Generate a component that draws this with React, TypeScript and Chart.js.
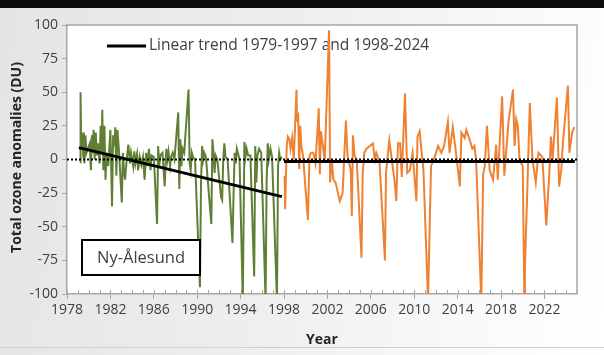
import { useEffect, useRef } from "react";
import { Chart, registerables } from "chart.js";

Chart.register(...registerables);

// ---- Data (decimal years, total ozone anomalies in DU) ----
const greenYears = [
  1979.2, 1979.25, 1979.3, 1979.35, 1979.4, 1979.45, 1979.5, 1979.55, 1979.6, 1979.7, 1979.8,
  1980.1, 1980.2, 1980.3, 1980.35, 1980.45, 1980.55, 1980.65, 1980.75, 1980.85,
  1981.0, 1981.1, 1981.2, 1981.25, 1981.35, 1981.45, 1981.55, 1981.65, 1981.8,
  1982.0, 1982.15, 1982.25, 1982.35, 1982.45, 1982.55, 1982.65, 1982.8,
  1983.05, 1983.15, 1983.25, 1983.35, 1983.5, 1983.65, 1983.8, 1983.9,
  1984.1, 1984.2, 1984.3, 1984.45, 1984.55, 1984.7, 1984.85,
  1985.0, 1985.15, 1985.3, 1985.4, 1985.55, 1985.7, 1985.8,
  1986.0, 1986.3, 1986.4, 1986.5, 1986.6, 1986.8,
  1987.0, 1987.15, 1987.25, 1987.35, 1987.5, 1987.6, 1987.75, 1987.9,
  1988.25, 1988.35, 1988.45, 1988.55, 1988.65, 1988.8,
  1989.2, 1989.3, 1989.4, 1989.5, 1989.6, 1989.8,
  1990.25, 1990.35, 1990.45, 1990.55, 1990.65, 1990.8,
  1991.3, 1991.4, 1991.5, 1991.6, 1991.7, 1991.85,
  1992.2, 1992.3, 1992.4, 1992.5, 1992.6, 1992.8,
  1993.25, 1993.35, 1993.45, 1993.55, 1993.65, 1993.9,
  1994.2, 1994.35, 1994.45, 1994.55, 1994.7, 1994.9,
  1995.25, 1995.35, 1995.45, 1995.55, 1995.7, 1995.9,
  1996.3, 1996.4, 1996.5, 1996.6, 1996.75, 1996.9,
  1997.35, 1997.45, 1997.55, 1997.65, 1997.8,
];
const greenValues = [
  -2, 50, 15, 20, 8, 18, 2, 20, -3, 18, 5,
  12, -8, 18, 5, 22, 0, 20, 3, 12,
  -3, 25, 5, 37, -8, 25, -15, 5, -5,
  22, -35, 18, 10, 24, -12, 22, 5,
  -32, 5, -8, -15, 0, 11, -3, 5,
  -5, 6, -3, 4, -8, 2, -4,
  2, -15, 5, -5, 8, -8, 3,
  2, -48, 10, -5, 3, 5,
  -20, 8, 0, 6, -5, 2, 5, 0,
  35, -22, 15, -5, 8, 5,
  52, -3, -8, 5, 2, 0,
  -95, -18, 10, 0, 5, 2,
  -48, 15, 5, -10, 3, 0,
  -28, -30, 0, 12, 2, 0,
  -62, -26, 5, -3, 8, 0,
  -105, 13, 2, 8, 3, 3,
  -87, 10, -17, 3, 8, 5,
  -105, -15, 12, 0, 8, 2,
  -105, -5, 5, 0, 2,
];

const orangeYears = [
  1998.05, 1998.1, 1998.25, 1998.35, 1998.5, 1998.6, 1998.75, 1998.9,
  1999.15, 1999.2, 1999.3, 1999.4, 1999.5, 1999.6, 1999.75,
  2000.2, 2000.35, 2000.5, 2000.7, 2000.9,
  2001.2, 2001.3, 2001.4, 2001.55, 2001.75,
  2002.15, 2002.25, 2002.4, 2002.55, 2002.75,
  2003.14, 2003.4, 2003.7, 2003.85,
  2004.15, 2004.25, 2004.35, 2004.5, 2004.7,
  2005.14, 2005.25, 2005.4, 2005.6,
  2006.2, 2006.35, 2006.5, 2006.8,
  2007.3, 2007.4, 2007.7, 2007.85,
  2008.2, 2008.35, 2008.5, 2008.7, 2008.85,
  2009.15, 2009.35, 2009.6, 2009.85,
  2010.2, 2010.3, 2010.5, 2010.65, 2010.85,
  2011.27, 2011.55, 2011.85,
  2012.2, 2012.5, 2012.75,
  2013.1, 2013.25, 2013.55, 2013.85,
  2014.2, 2014.35, 2014.65, 2014.8, 2015.1,
  2015.35, 2015.55, 2015.7,
  2016.18, 2016.35, 2016.5, 2016.7, 2016.95,
  2017.26, 2017.55, 2017.7,
  2018.1, 2018.3, 2018.7,
  2019.1, 2019.25, 2019.4, 2019.55, 2019.7, 2020.0,
  2020.15, 2020.2, 2020.45, 2020.65, 2020.9,
  2021.2, 2021.45, 2021.8,
  2022.17, 2022.45, 2022.6, 2022.75,
  2023.15, 2023.35, 2023.55, 2023.7,
  2024.16, 2024.3, 2024.55, 2024.75,
];
const orangeValues = [
  -12, -37, 10, 17, 15, 8, 16, 0,
  52, 28, 35, -7, 25, 10, 3,
  -45, 3, 5, 5, -3,
  38, -11, 21, 12, 0,
  96, -17, 0, -15, -17,
  -31, -25, 29, 3,
  -8, -42, 18, 3, 0,
  -73, -10, 5, 8,
  12, 0, 5, -2,
  -75, -10, 14, 5,
  -17, -31, 12, 12, -13,
  49, -10, -8, 5,
  -31, 17, 21, 8, -8,
  -105, -5, 1,
  10, 5, 10,
  28, 5, 24, 5,
  -20, 20, 16, 22, 15,
  8, 10, 0,
  -105, -11, -5, 25, -8,
  -15, 11, -15,
  47, -12, 29,
  52, 10, 30, 25, 0, -5,
  -105, -80, -15, 42, 0,
  -17, 5, 2,
  -49, -10, 17, 0,
  46, -20, -8, 12,
  55, 5, 20, 24,
];

const trend1Years = [1979.1, 1997.8];
const trend1Values = [8.8, -27.6];
const trend2Years = [1998.0, 2024.8];
const trend2Values = [-1.5, -1.5];

const zeroYears = [1978, 2025];
const zeroValues = [0, 0];

const xTickYears = [1978, 1982, 1986, 1990, 1994, 1998, 2002, 2006, 2010, 2014, 2018, 2022];
const yTickValues = [-100, -75, -50, -25, 0, 25, 50, 75, 100];

const xMin = 1978;
const xMax = 2025;
const yMin = -100;
const yMax = 100;

const legendLabel = "Linear trend 1979-1997 and 1998-2024";
const stationLabel = "Ny-Ålesund";
const yTitle = "Total ozone anomalies (DU)";
const xTitle = "Year";

const FONT = "'Open Sans', sans-serif";
const TEXT = "#404040";
const AXIS = "#a6a6a6";

const pts = (xs: number[], ys: number[]) => xs.map((x, i) => ({ x, y: ys[i] }));

const decor = {
  id: "decor",
  beforeDraw(chart: any) {
    const { ctx, chartArea: a } = chart;
    ctx.save();
    ctx.fillStyle = "#ffffff";
    ctx.fillRect(a.left, a.top, a.right - a.left, a.bottom - a.top);
    ctx.restore();
  },
  beforeDatasetsDraw(chart: any) {
    const { ctx, chartArea: a } = chart;
    ctx.save();
    // legend
    const ly = 46;
    ctx.strokeStyle = "#000";
    ctx.lineWidth = 3;
    ctx.beginPath();
    ctx.moveTo(107, ly);
    ctx.lineTo(146, ly);
    ctx.stroke();
    ctx.fillStyle = TEXT;
    ctx.font = `15.5px ${FONT}`;
    ctx.textBaseline = "middle";
    ctx.textAlign = "left";
    ctx.fillText(legendLabel, 149, ly);
    // frame top/right
    ctx.strokeStyle = AXIS;
    ctx.lineWidth = 1.5;
    ctx.beginPath();
    ctx.moveTo(a.left, a.top);
    ctx.lineTo(a.right, a.top);
    ctx.lineTo(a.right, a.bottom);
    ctx.stroke();
    // minor x ticks (every year)
    const xs = chart.scales.x;
    ctx.lineWidth = 1;
    ctx.beginPath();
    for (let yr = xMin; yr <= xMax; yr++) {
      const px = Math.round(xs.getPixelForValue(yr)) + 0.5;
      ctx.moveTo(px, a.bottom);
      ctx.lineTo(px, a.bottom - 4);
    }
    ctx.stroke();
    ctx.restore();
  },
  afterDatasetsDraw(chart: any) {
    const { ctx } = chart;
    ctx.save();
    // station box
    ctx.fillStyle = "#ffffff";
    ctx.fillRect(82, 240, 118, 35);
    ctx.strokeStyle = "#000";
    ctx.lineWidth = 2;
    ctx.strokeRect(82, 240, 118, 35);
    ctx.fillStyle = TEXT;
    ctx.font = `16.5px ${FONT}`;
    ctx.textAlign = "center";
    ctx.textBaseline = "middle";
    ctx.fillText(stationLabel, 141, 258);
    ctx.restore();
  },
  afterDraw(chart: any) {
    const { ctx, chartArea: a } = chart;
    ctx.save();
    ctx.fillStyle = "#262626";
    ctx.font = `bold 14px ${FONT}`;
    ctx.textAlign = "center";
    ctx.textBaseline = "middle";
    ctx.fillText(xTitle, (a.left + a.right) / 2, 340);
    ctx.translate(17, (a.top + a.bottom) / 2 - 2);
    ctx.rotate(-Math.PI / 2);
    ctx.fillText(yTitle, 0, 0);
    ctx.restore();
  },
};

export default function App() {
  const ref = useRef<HTMLCanvasElement>(null);
  useEffect(() => {
    if (!ref.current) return;
    const chart = new Chart(ref.current, {
      type: "line",
      data: {
        datasets: [
          {
            label: "zero",
            data: pts(zeroYears, zeroValues),
            borderColor: "#000000",
            borderWidth: 2,
            borderDash: [2, 2],
            pointRadius: 0,
            order: 1,
          },
          {
            label: "trend1",
            data: pts(trend1Years, trend1Values),
            borderColor: "#000000",
            borderWidth: 3,
            pointRadius: 0,
            order: 0,
          },
          {
            label: "trend2",
            data: pts(trend2Years, trend2Values),
            borderColor: "#000000",
            borderWidth: 3,
            pointRadius: 0,
            order: 0,
          },
          {
            label: "1979-1997",
            data: pts(greenYears, greenValues),
            borderColor: "#5f7f35",
            borderWidth: 2,
            pointRadius: 0,
            tension: 0,
            order: 3,
          },
          {
            label: "1998-2024",
            data: pts(orangeYears, orangeValues),
            borderColor: "#ef8232",
            borderWidth: 2,
            pointRadius: 0,
            tension: 0,
            order: 3,
          },
        ],
      },
      options: {
        responsive: false,
        animation: false,
        layout: { padding: { left: 0, top: 25, right: 27, bottom: 0 } },
        plugins: { legend: { display: false }, tooltip: { enabled: false } },
        scales: {
          x: {
            type: "linear",
            min: xMin,
            max: xMax,
            afterFit: (s: any) => {
              s.height = 61;
            },
            afterBuildTicks: (s: any) => {
              s.ticks = xTickYears.map((v) => ({ value: v }));
            },
            border: { color: AXIS, width: 1.5 },
            grid: { drawOnChartArea: false, drawTicks: true, tickLength: 5, color: AXIS },
            ticks: {
              maxRotation: 0,
              autoSkip: false,
              padding: 3,
              color: TEXT,
              font: { family: FONT, size: 14 },
              callback: (v: any) => String(v),
            },
          },
          y: {
            min: yMin,
            max: yMax,
            afterFit: (s: any) => {
              s.width = 67;
            },
            afterBuildTicks: (s: any) => {
              s.ticks = yTickValues.map((v) => ({ value: v }));
            },
            border: { color: AXIS, width: 1.5 },
            grid: { drawOnChartArea: false, drawTicks: true, tickLength: 5, color: AXIS },
            ticks: {
              padding: 4,
              color: TEXT,
              font: { family: FONT, size: 14 },
              callback: (v: any) => String(v),
            },
          },
        },
      },
      plugins: [decor],
    });
    return () => chart.destroy();
  }, []);

  return (
    <div
      style={{
        position: "fixed",
        left: 0,
        top: 0,
        width: 604,
        height: 355,
        background: "linear-gradient(100deg, #e4e4e4 0%, #eeeeee 45%, #fbfbfb 85%, #ffffff 100%)",
        overflow: "hidden",
      }}
    >
      <div style={{ position: "absolute", left: 0, top: 0, width: 604, height: 8, background: "#0b0b0b" }} />
      <div style={{ position: "absolute", left: 0, top: 347, width: 604, height: 1, background: "#d0d0d0" }} />
      <canvas ref={ref} width={604} height={355} style={{ position: "absolute", left: 0, top: 0 }} />
    </div>
  );
}
